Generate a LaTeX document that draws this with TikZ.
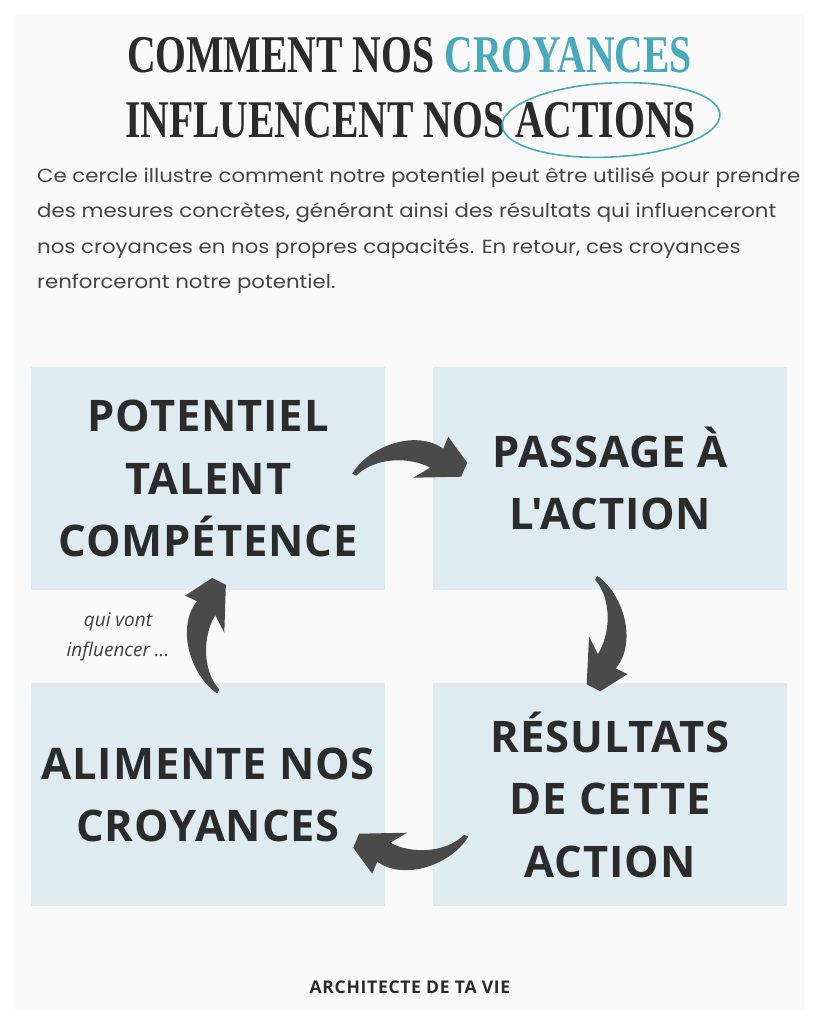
\documentclass[tikz,border=0pt]{standalone}
\usepackage{fontspec}
\usepackage{graphicx}
\setmainfont{Open Sans}
\newfontfamily\boxfont[LetterSpace=2]{Open Sans}
\newfontfamily\footfont[LetterSpace=4]{Open Sans}
\newfontfamily\titlefont{Liberation Serif}
\newfontfamily\parafont{Poppins}
\usetikzlibrary{calc,shapes.geometric}
\definecolor{bgpanel}{HTML}{F9F9F9}
\definecolor{boxblue}{HTML}{DEECF1}
\definecolor{ink}{HTML}{2B2B2B}
\definecolor{arrowgrey}{HTML}{4A4A4A}
\definecolor{accent}{HTML}{47A9BB}
\definecolor{paragrey}{HTML}{454545}
\newlength\Lone
\newlength\Ltitle
\newcommand\ptxt[1]{\scalebox{\pfac}[1]{\parafont\fontsize{19}{19}\selectfont #1}}
\newcommand\ttxt[1]{\scalebox{\tfac}[1]{\titlefont\bfseries\fontsize{53}{53}\selectfont #1}}
\AtBeginDocument{%
\settowidth\Lone{\parafont\fontsize{19}{19}\selectfont Ce cercle illustre comment notre potentiel peut être utilisé pour prendre}%
\pgfmathsetmacro\pfac{763/\Lone}%
\settowidth\Ltitle{\titlefont\bfseries\fontsize{53}{53}\selectfont COMMENT NOS CROYANCES}%
\pgfmathsetmacro\tfac{565/\Ltitle}%
}
\tikzset{
  curvedarrow/.pic={
    \fill[arrowgrey] (-58,15) .. controls (-42,-12) and (5,-30) .. (33,-10)
      -- (38,-22) -- (57,4) -- (51,18) -- (3,19) -- (20,9)
      .. controls (0,-2) and (-35,-2) .. (-54,17) -- cycle;
  }
}
\begin{document}
\begin{tikzpicture}[x=1pt,y=-1pt,
  card/.style={fill=boxblue, draw=none, minimum width=354pt, minimum height=223pt,
    inner sep=0pt, anchor=north west, text=ink, align=center,
    font=\boxfont\bfseries\fontsize{43.5}{62.5}\selectfont},
  paraline/.style={anchor=base west, inner sep=0pt, text=paragrey},
]
\useasboundingbox (0,0) rectangle (819,1024);
\fill[white] (0,0) rectangle (819,1024);
\fill[bgpanel] (15,15) rectangle (805,1010);

% title
\node[anchor=base, inner sep=0pt, text=ink] (t1) at (409.5,73) {\ttxt{COMMENT NOS \textcolor{accent}{CROYANCES}}};
\node[anchor=base, inner sep=0pt, text=ink] (t2) at (410.5,138) {\ttxt{INFLUENCENT NOS ACTIONS}};
\node[ellipse, draw=accent, line width=1.6pt, minimum width=218pt, minimum height=74pt, rotate=3] (ring) at (611,120) {};

% paragraph
\node[paraline] (p1) at (37,183) {\ptxt{Ce cercle illustre comment notre potentiel peut être utilisé pour prendre}};
\node[paraline] (p2) at (37,218) {\ptxt{des mesures concrètes, générant ainsi des résultats qui influenceront}};
\node[paraline] (p3) at (37,253) {\ptxt{nos croyances en nos propres capacités. En retour, ces croyances}};
\node[paraline] (p4) at (37,288) {\ptxt{renforceront notre potentiel.}};

% cards
\node[card] (tl) at (31,367) {POTENTIEL\\TALENT\\COMPÉTENCE};
\node[card] (tr) at (433,367) {PASSAGE À\\L'ACTION};
\node[card] (bl) at (31,683) {ALIMENTE NOS\\CROYANCES};
\node[card] (br) at (433,683) {RÉSULTATS\\DE CETTE\\ACTION};

% arrows between cards
\pic at ($(tl.east)!0.5!(tr.west)+(1,-20)$) {curvedarrow};
\pic[rotate=-94] at ($(tr.south)!0.5!(br.north)+(-2,-2)$) {curvedarrow};
\pic[rotate=180] at ($(br.west)!0.5!(bl.east)+(1,57)$) {curvedarrow};
\pic[rotate=87] at ($(bl.north)!0.5!(tl.south)+(-3,-2)$) {curvedarrow};

% side note
\node[align=center, text=ink!90, font=\itshape\fontsize{19}{30}\selectfont] (note) at (118,637) {qui vont\\influencer ...};

% footer
\node[anchor=base, inner sep=0pt, text=ink, font=\footfont\bfseries\fontsize{17.5}{20}\selectfont] (foot) at (410,993) {ARCHITECTE DE TA VIE};
\end{tikzpicture}
\end{document}
